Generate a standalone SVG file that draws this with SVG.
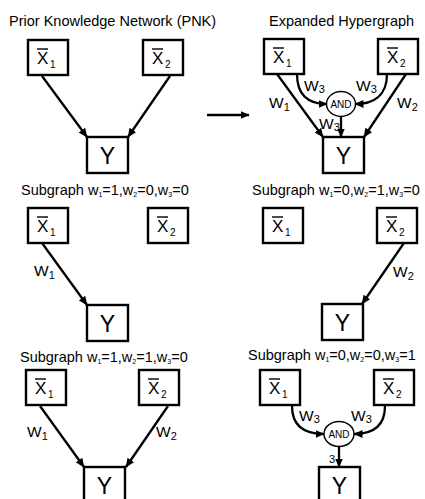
<svg xmlns="http://www.w3.org/2000/svg" width="425" height="499" viewBox="0 0 425 499">
<style>
text{font-family:"Liberation Sans",Arial,sans-serif;fill:#000}
.t{font-size:14.5px}
.ts{font-size:7px}
.box{fill:#fff;stroke:#000;stroke-width:2.4}
.bar{stroke:#000;stroke-width:1.4}
.xv{font-size:17px}
.xs{font-size:10px}
.yv{font-size:23px;text-anchor:middle}
.and{fill:#fff;stroke:#000;stroke-width:1.4}
.andt{font-size:10px;text-anchor:middle}
.lbl{font-size:15.5px}
.ls{font-size:11px}
.e{fill:none;stroke:#000;stroke-width:2.3;marker-end:url(#ah)}
</style>
<defs>
<marker id="ah" markerUnits="userSpaceOnUse" markerWidth="9" markerHeight="8" refX="8.5" refY="4" orient="auto"><path d="M0,0 L9,4 L0,8 z" fill="#000"/></marker>
<g id="xb1"><rect class="box" x="0" y="0" width="40" height="35"/><line class="bar" x1="9" y1="9" x2="20" y2="9"/><text class="xv" x="9" y="24">X</text><text class="xs" x="22" y="28">1</text></g>
<g id="xb2"><rect class="box" x="0" y="0" width="40" height="35"/><line class="bar" x1="9" y1="9" x2="20" y2="9"/><text class="xv" x="9" y="24">X</text><text class="xs" x="22" y="28">2</text></g>
<g id="yb"><rect class="box" x="0" y="0" width="41" height="36"/><text class="yv" x="20.5" y="27">Y</text></g>
</defs>

<!-- titles -->
<text class="t" x="9" y="26">Prior Knowledge Network (PNK)</text>
<text class="t" x="269" y="26">Expanded Hypergraph</text>
<text class="t" x="21" y="195">Subgraph w<tspan class="ts" dy="2">1</tspan><tspan dy="-2">=1,w</tspan><tspan class="ts" dy="2">2</tspan><tspan dy="-2">=0,w</tspan><tspan class="ts" dy="2">3</tspan><tspan dy="-2">=0</tspan></text>
<text class="t" x="252" y="195">Subgraph w<tspan class="ts" dy="2">1</tspan><tspan dy="-2">=0,w</tspan><tspan class="ts" dy="2">2</tspan><tspan dy="-2">=1,w</tspan><tspan class="ts" dy="2">3</tspan><tspan dy="-2">=0</tspan></text>
<text class="t" x="20" y="362">Subgraph w<tspan class="ts" dy="2">1</tspan><tspan dy="-2">=1,w</tspan><tspan class="ts" dy="2">2</tspan><tspan dy="-2">=1,w</tspan><tspan class="ts" dy="2">3</tspan><tspan dy="-2">=0</tspan></text>
<text class="t" x="248" y="360">Subgraph w<tspan class="ts" dy="2">1</tspan><tspan dy="-2">=0,w</tspan><tspan class="ts" dy="2">2</tspan><tspan dy="-2">=0,w</tspan><tspan class="ts" dy="2">3</tspan><tspan dy="-2">=1</tspan></text>

<!-- connectors -->
<g id="connectors">
<line class="e" x1="42" y1="76" x2="87" y2="137"/>
<line class="e" x1="170" y1="76" x2="128" y2="137"/>
<line class="e" x1="207" y1="115" x2="249" y2="115"/>
<line class="e" x1="277" y1="74" x2="323" y2="137"/>
<line class="e" x1="406" y1="74" x2="364" y2="137"/>
<path class="e" d="M297,74 C297,96 309,104 327,104"/>
<path class="e" d="M387,74 C387,96 373,104 355,104"/>
<line class="e" x1="341" y1="116" x2="341" y2="137"/>
<line class="e" x1="42" y1="243" x2="87" y2="305"/>
<line class="e" x1="404" y1="243" x2="362" y2="304"/>
<line class="e" x1="40" y1="406" x2="84" y2="467"/>
<line class="e" x1="168" y1="406" x2="126" y2="467"/>
<path class="e" d="M292,406 C292,427 305,434 324,434"/>
<path class="e" d="M385,406 C385,427 372,434 354,434"/>
<line class="e" x1="339" y1="446" x2="339" y2="467"/>
<text class="lbl" x="269" y="108">W<tspan class="ls" dy="3">1</tspan></text>
<text class="lbl" x="397" y="108">W<tspan class="ls" dy="3">2</tspan></text>
<text class="lbl" x="304" y="91">W<tspan class="ls" dy="2">3</tspan></text>
<text class="lbl" x="356" y="91">W<tspan class="ls" dy="2">3</tspan></text>
<text class="lbl" x="319" y="129">W<tspan class="ls" dy="2">3</tspan></text>
<text class="lbl" x="34" y="276">W<tspan class="ls" dy="3">1</tspan></text>
<text class="lbl" x="393" y="277">W<tspan class="ls" dy="3">2</tspan></text>
<text class="lbl" x="27" y="437">W<tspan class="ls" dy="3">1</tspan></text>
<text class="lbl" x="156" y="437">W<tspan class="ls" dy="3">2</tspan></text>
<text class="lbl" x="299" y="421">W<tspan class="ls" dy="2">3</tspan></text>
<text class="lbl" x="351" y="421">W<tspan class="ls" dy="2">3</tspan></text>
<text class="ls" x="329" y="463">3</text>
</g>

<!-- panel A -->
<g id="a-x1" transform="translate(28,40)"><use href="#xb1"/></g>
<g id="a-x2" transform="translate(143,40)"><use href="#xb2"/></g>
<g id="a-y" transform="translate(87,137)"><use href="#yb"/></g>
<!-- panel B -->
<g id="b-x1" transform="translate(264,39)"><use href="#xb1"/></g>
<g id="b-x2" transform="translate(378,39)"><use href="#xb2"/></g>
<g id="b-and"><ellipse class="and" cx="341" cy="104" rx="14.5" ry="12.5"/><text class="andt" x="341" y="107.5">AND</text></g>
<g id="b-y" transform="translate(323,137)"><use href="#yb"/></g>
<!-- panel C -->
<g id="c-x1" transform="translate(28,208)"><use href="#xb1"/></g>
<g id="c-x2" transform="translate(148,208)"><use href="#xb2"/></g>
<g id="c-y" transform="translate(87,305)"><use href="#yb"/></g>
<!-- panel D -->
<g id="d-x1" transform="translate(263,208)"><use href="#xb1"/></g>
<g id="d-x2" transform="translate(377,208)"><use href="#xb2"/></g>
<g id="d-y" transform="translate(322,304)"><use href="#yb"/></g>
<!-- panel E -->
<g id="e-x1" transform="translate(26,370)"><use href="#xb1"/></g>
<g id="e-x2" transform="translate(139,370)"><use href="#xb2"/></g>
<g id="e-y" transform="translate(84,467)"><use href="#yb"/></g>
<!-- panel F -->
<g id="f-x1" transform="translate(260,370)"><use href="#xb1"/></g>
<g id="f-x2" transform="translate(374,370)"><use href="#xb2"/></g>
<g id="f-and"><ellipse class="and" cx="339" cy="434" rx="15" ry="12.5"/><text class="andt" x="339" y="437.5">AND</text></g>
<g id="f-y" transform="translate(319,467)"><use href="#yb"/></g>
</svg>
